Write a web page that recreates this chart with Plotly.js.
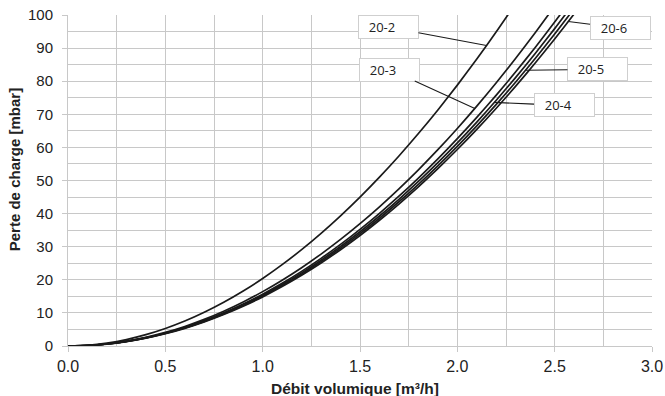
<!DOCTYPE html>
<html>
<head>
<meta charset="utf-8">
<script src="https://cdn.plot.ly/plotly-3.0.1.min.js"></script>
<style>html,body{margin:0;padding:0;background:#fff;}#chart{width:665px;height:396px;}</style>
</head>
<body>
<div id="chart"></div>
<script>
// Flow rate [m³/h]
var xFlow = [0,0.1,0.2,0.3,0.4,0.5,0.6,0.7,0.8,0.9,1.0,1.1,1.2,1.3,1.4,1.5,1.6,1.7,1.8,1.9,2.0,2.1,2.2,2.3,2.4,2.5,2.6,2.7];
// Pressure drop [mbar] per model
var y20_2 = [0,0.23,0.89,1.95,3.42,5.28,7.53,10.18,13.20,16.61,20.4,24.57,29.11,34.03,39.32,44.98,51.01,57.41,64.18,71.32,78.82,86.68,94.92,103.5];
var y20_3 = [0,0.16,0.66,1.48,2.63,4.11,5.91,8.05,10.52,13.31,16.43,19.88,23.66,27.77,32.20,36.97,42.06,47.48,53.23,59.31,65.72,72.46,79.52,86.91,94.64,102.69];
var yExtra = [0,0.16,0.63,1.41,2.51,3.92,5.64,7.67,10.02,12.68,15.66,18.95,22.55,26.47,30.69,35.24,40.09,45.26,50.74,56.53,62.64,69.06,75.79,82.84,90.20,97.88,105.86];
var y20_4 = [0,0.15,0.61,1.38,2.45,3.84,5.52,7.52,9.82,12.43,15.34,18.56,22.09,25.92,30.07,34.52,39.27,44.33,49.70,55.38,61.36,67.65,74.25,81.15,88.36,95.88,103.70];
var y20_5 = [0,0.15,0.60,1.36,2.41,3.77,5.43,7.39,9.65,12.21,15.08,18.25,21.72,25.49,29.56,33.93,38.60,43.58,48.86,54.44,60.32,66.50,72.99,79.77,86.86,94.25,101.94];
var y20_6 = [0,0.15,0.59,1.34,2.37,3.71,5.34,7.27,9.50,12.02,14.84,17.96,21.37,25.08,29.09,33.39,37.99,42.89,48.08,53.57,59.36,65.44,71.83,78.50,85.48,92.75,100.32,108.18];

var labels = ['20-2','20-3','20-4','20-5','20-6'];
var xTitle = 'Débit volumique [m³/h]';
var yTitle = 'Perte de charge [mbar]';
var seriesMap = {'20-2':y20_2,'20-3':y20_3,'20-4':y20_4,'20-5':y20_5,'20-6':y20_6};
// label box centre (data coords) and arrow tip x
var labelBox = {'20-2':[1.646,96.3],'20-3':[1.651,83.5],'20-4':[2.548,72.7],'20-5':[2.72,83.6],'20-6':[2.836,96.0]};
var labelTipX = {'20-2':2.15,'20-3':2.09,'20-4':2.19,'20-5':2.35,'20-6':2.57};

function interp(xs, ys, x){
  for (var i=0;i<ys.length-1;i++){
    if (x>=xs[i] && x<=xs[i+1]){
      var t=(x-xs[i])/(xs[i+1]-xs[i]);
      return ys[i]+t*(ys[i+1]-ys[i]);
    }
  }
  return ys[ys.length-1];
}

var lineStyle = {color:'#1a1a1a', width:1.7, shape:'spline', smoothing:0.6};
var allSeries = [['20-2',y20_2],['20-3',y20_3],['',yExtra],['20-4',y20_4],['20-5',y20_5],['20-6',y20_6]];
var traces = allSeries.map(function(s){
  return {x:xFlow.slice(0,s[1].length), y:s[1], type:'scatter', mode:'lines', name:s[0], line:lineStyle, hoverinfo:'x+y'};
});

var annotations = labels.map(function(lb){
  var tx = labelTipX[lb];
  var ty = interp(xFlow, seriesMap[lb], tx);
  return {
    x: tx, y: ty, xref:'x', yref:'y',
    ax: labelBox[lb][0], ay: labelBox[lb][1], axref:'x', ayref:'y',
    text: '&nbsp;&nbsp;' + lb, showarrow:true, arrowhead:0, arrowwidth:1.1, arrowcolor:'#1a1a1a',
    bgcolor:'#ffffff', bordercolor:'#cfcfcf', borderwidth:1, borderpad:3,
    width:53, height:16, align:'left',
    font:{family:'Open Sans, sans-serif', size:13, color:'#222'}
  };
});
// axis titles as annotations for exact placement
annotations.push({
  xref:'paper', yref:'paper', x:0.4914, y:-0.127, xanchor:'center', yanchor:'middle',
  text:'<b>'+xTitle+'</b>', showarrow:false, font:{size:15.5, color:'#222'}
});
annotations.push({
  xref:'paper', yref:'paper', x:-0.0902, y:0.532, xanchor:'center', yanchor:'middle',
  text:'<b>'+yTitle+'</b>', textangle:-90, showarrow:false, font:{size:15, color:'#222'}
});

var gridC = '#c8c8c8';
var layout = {
  width:665, height:396,
  margin:{l:68, r:13, t:15, b:50},
  paper_bgcolor:'#fff', plot_bgcolor:'#fff',
  showlegend:false,
  font:{family:'Liberation Sans, Arial, sans-serif', color:'#222'},
  xaxis:{
    range:[0,3], dtick:0.5, tick0:0, tickformat:'.1f',
    showgrid:true, gridcolor:gridC, gridwidth:1,
    minor:{dtick:0.25, showgrid:true, gridcolor:gridC, gridwidth:1},
    ticks:'outside', ticklen:5, tickcolor:gridC, ticklabelstandoff:1,
    showline:true, linecolor:gridC, linewidth:1, zeroline:false,
    tickfont:{size:16, color:'#222'}
  },
  yaxis:{
    range:[0,100], dtick:10, tick0:0,
    showgrid:true, gridcolor:gridC, gridwidth:1,
    minor:{dtick:5, showgrid:true, gridcolor:gridC, gridwidth:1},
    ticks:'outside', ticklen:5, tickcolor:gridC, ticklabelstandoff:6,
    showline:true, linecolor:gridC, linewidth:1, zeroline:false,
    tickfont:{size:15, color:'#222'}
  },
  annotations: annotations
};

Plotly.newPlot('chart', traces, layout, {displayModeBar:false, staticPlot:true});
</script>
</body>
</html>
